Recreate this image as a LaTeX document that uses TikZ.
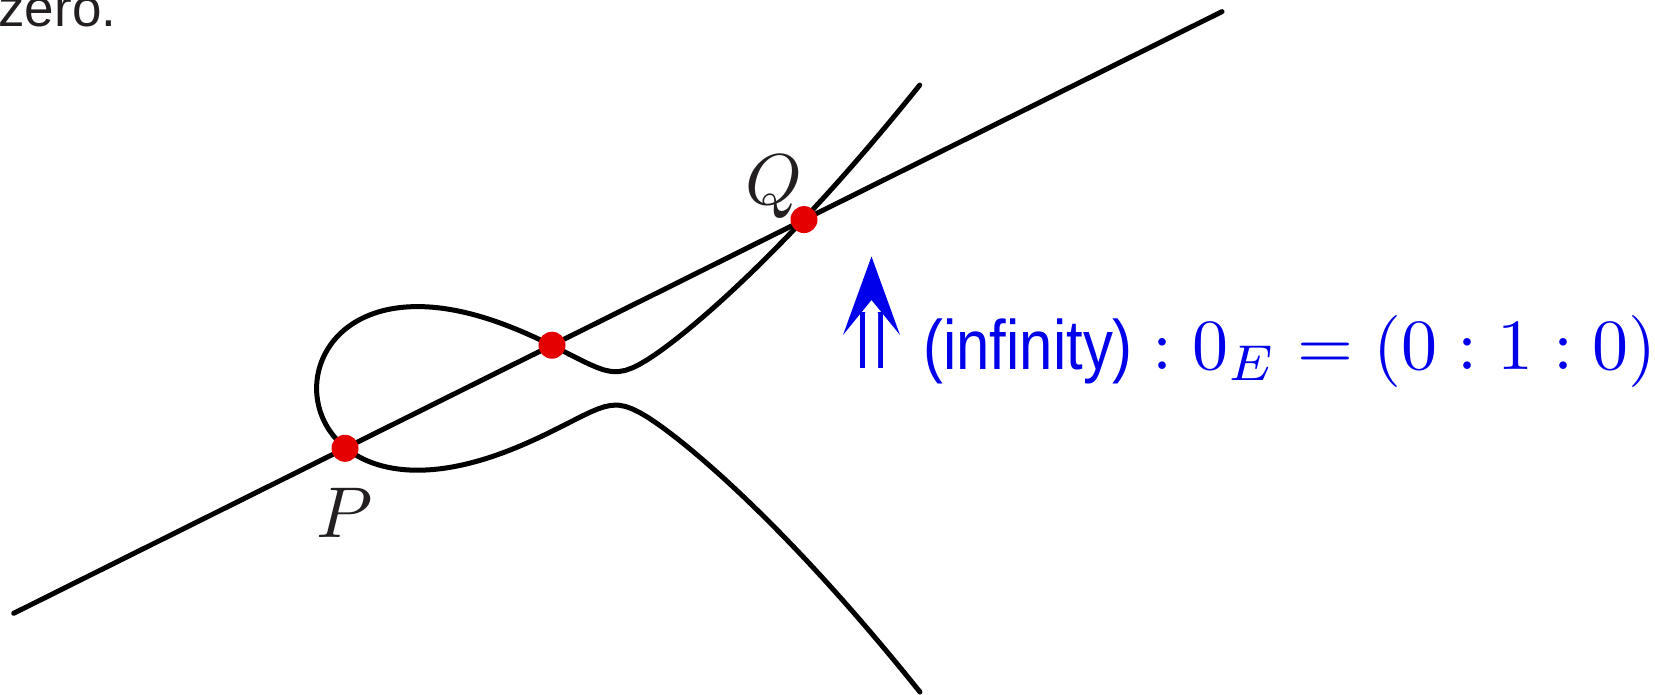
\documentclass[tikz,border=0pt]{standalone}
\usepackage{fontspec}
\setsansfont{Liberation Sans}
\definecolor{curvered}{RGB}{228,0,0}
\definecolor{labelblue}{RGB}{0,0,235}
\definecolor{inkgray}{RGB}{35,31,32}
\tikzset{
  curveline/.style={line width=2.5pt, black, line cap=round},
  ptdot/.style={circle, fill=curvered, inner sep=0pt, minimum size=13.5pt},
  ptlabel/.style={text=inkgray, inner sep=0pt},
}
\begin{document}
\begin{tikzpicture}[x=0.5pt,y=-0.5pt]
\useasboundingbox (0,0) rectangle (1655,695);
% caption fragment
\node[anchor=base west, inner sep=0pt, text=inkgray, font=\fontsize{26.5}{30}\sffamily] (zero) at (-2,27) {zero.};
% the cubic curve
\draw[curveline, line join=round] plot[domain=-2.4564:2.4564, samples=240, variable=\s]
  ({316.6+100*\s*\s}, {388.4-40.62*\s*sqrt((\s*\s-3)*(\s*\s-3)+0.056)});
% the secant line
\coordinate (L1) at (13.7,613.3);
\coordinate (L2) at (1222,11.6);
\draw[curveline] (L1) -- (L2);
% points
\node[ptdot] (P) at (345,448.3) {};
\node[ptdot] (R) at (552,345.2) {};
\node[ptdot] (Q) at (804,219.6) {};
\node[ptlabel] (Plab) at (345,513) {\scalebox{3.6}{$P$}};
\node[ptlabel] (Qlab) at (774,187) {\scalebox{3.6}{$Q$}};
% point at infinity arrow
\fill[labelblue] (843,335) -- (871.5,256.5) -- (900,335) -- (871.5,300) -- cycle;
\fill[labelblue] (860,312) rectangle (883,368);
\fill[white] (865,368) -- (865,313) -- (871.5,305) -- (878,313) -- (878,368) -- cycle;
\node[anchor=base west, inner sep=0pt, text=labelblue] (inf) at (923,369.5)
  {\scalebox{0.855}[1]{\fontsize{35}{40}\sffamily (infinity)}\hspace{9.85pt}\scalebox{3.6}{$:0_E=(0:1:0)$}};
\end{tikzpicture}
\end{document}
